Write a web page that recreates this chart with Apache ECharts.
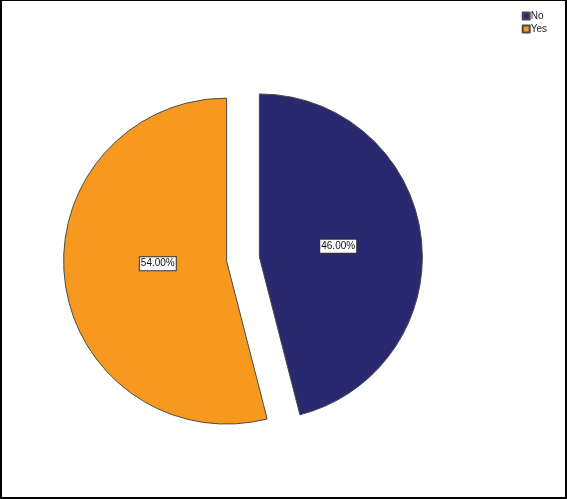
<!DOCTYPE html>
<html>
<head>
<meta charset="utf-8">
<script src="https://cdn.jsdelivr.net/npm/echarts@6/dist/echarts.min.js"></script>
<style>
    html, body { margin: 0; padding: 0; background: #fff; }
    #chart {
        position: absolute; left: 0; top: 0;
        width: 567px; height: 499px;
        box-sizing: border-box;
        border-top: 1px solid #000;
        border-left: 2px solid #000;
        border-right: 2px solid #000;
        border-bottom: 2px solid #000;
    }
</style>
</head>
<body>
<div id="chart"></div>
<script>
    // answer categories and their shares (percent)
    var categories = ['No', 'Yes'];
    var shares = [46, 54];
    var colors = ['#28296f', '#f7991f'];
    var labelShift = [[-5, 0], [15, -8]];

    var chart = echarts.init(document.getElementById('chart'));

    var pieData = categories.map(function (name, i) {
        return {
            name: name,
            value: shares[i],
            selected: true,
            itemStyle: { color: colors[i] }
        };
    });

    var option = {
        animation: false,
        legend: {
            orient: 'vertical',
            right: 13,
            top: 5,
            itemWidth: 7,
            itemHeight: 7,
            itemGap: 3,
            icon: 'rect',
            textStyle: { fontFamily: 'Arial, Liberation Sans', fontSize: 10, lineHeight: 10, color: '#222', padding: [0, 0, 0, -4] },
            data: categories
        },
        series: [
            {
                type: 'pie',
                radius: 163,
                center: [241, 258],
                startAngle: 90,
                selectedMode: 'multiple',
                selectedOffset: 16.5,
                itemStyle: { borderColor: '#4a4a4a', borderWidth: 1 },
                emphasis: { disabled: true },
                label: {
                    position: 'inside',
                    formatter: function (p) { return p.value.toFixed(2) + '%'; },
                    fontFamily: 'Arial, Liberation Sans',
                    fontSize: 10,
                    color: '#111',
                    backgroundColor: '#fff',
                    borderColor: '#333',
                    borderWidth: 1,
                    padding: [2, 1, 1, 1]
                },
                labelLayout: function (params) {
                    var s = labelShift[params.dataIndex];
                    return { dx: s[0], dy: s[1] };
                },
                labelLine: { show: false },
                data: pieData
            }
        ]
    };
    chart.setOption(option);
</script>
</body>
</html>
